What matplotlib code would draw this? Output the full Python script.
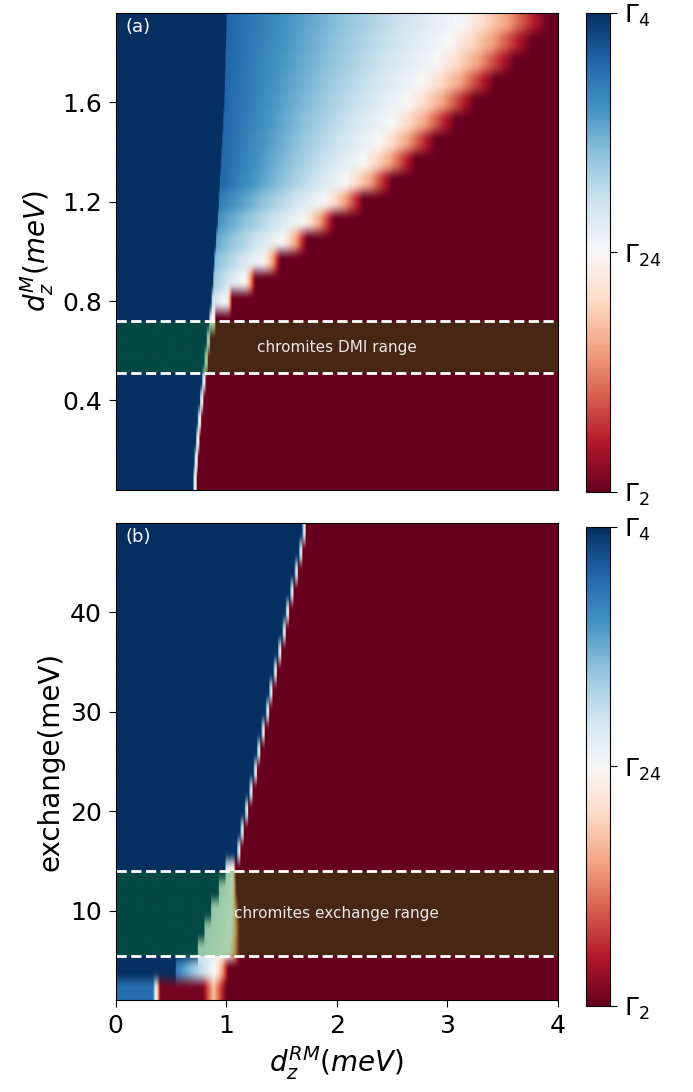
import matplotlib
matplotlib.use("Agg")
import matplotlib.pyplot as plt
import numpy as np

# d_z^RM (meV), sampled finely across each row
d_rm = np.linspace(0.0, 4.0, 801)

# Phase level: 1 = Gamma_4, 0.5 = Gamma_24, 0 = Gamma_2
# Each row: pure Gamma_4 left of the first edge, pure Gamma_2 right of the second,
# and a ramp through Gamma_24 in between that starts at the given level.
ramp_t = [0.0, 0.73, 0.87, 1.0]
ramp_level = [None, 0.5, 0.3, 0.0]

# panel (a): d_z^M rows (meV), top to bottom
dm_rows = [1.92, 1.84, 1.76, 1.68, 1.60, 1.52, 1.44, 1.36, 1.28, 1.20, 1.12, 1.04,
           0.96, 0.88, 0.80, 0.72, 0.64, 0.56, 0.48, 0.40, 0.32, 0.24, 0.16, 0.08]
dm_gamma4_edge = [1.00, 0.995, 0.99, 0.985, 0.98, 0.97, 0.96, 0.95, 0.94, 0.93, 0.92, 0.905,
                  0.89, 0.88, 0.865, 0.845, 0.82, 0.80, 0.78, 0.76, 0.74, 0.725, 0.71, 0.70]
dm_gamma2_edge = [3.91, 3.76, 3.61, 3.43, 3.25, 3.07, 2.89, 2.71, 2.50, 2.24, 1.98, 1.73,
                  1.49, 1.26, 1.05, 0.90, 0.85, 0.83, 0.81, 0.79, 0.77, 0.755, 0.74, 0.73]
dm_start_level = [0.9, 0.9, 0.9, 0.9, 0.9, 0.9, 0.9, 0.9, 0.9, 0.85, 0.8, 0.76,
                  0.72, 0.68, 0.62, 0.58, 0.65, 0.65, 0.65, 0.65, 0.65, 0.65, 0.65, 0.65]
dmi_range = (0.51, 0.72)

# panel (b): exchange rows (meV), top to bottom
ex_rows = [48, 46, 44, 42, 40, 38, 36, 34, 32, 30, 28, 26, 24, 22, 20, 18, 16,
           14, 12, 10, 8, 6, 4]
ex_gamma4_edge = [1.685, 1.655, 1.615, 1.575, 1.535, 1.505, 1.465, 1.425, 1.385, 1.355,
                  1.315, 1.275, 1.245, 1.205, 1.165, 1.125, 1.095,
                  0.99, 0.93, 0.86, 0.80, 0.74, 0.54]
ex_gamma2_edge = [1.715, 1.685, 1.645, 1.605, 1.565, 1.535, 1.495, 1.455, 1.415, 1.385,
                  1.345, 1.305, 1.275, 1.235, 1.195, 1.155, 1.125,
                  1.08, 1.09, 1.11, 1.12, 1.12, 1.02]
ex_start_level = [0.75] * 17 + [0.6, 0.6, 0.6, 0.6, 0.6, 0.85]
# lowest exchange row (2 meV) has its own profile
ex_low_x = [0.0, 0.33, 0.36, 0.40, 0.78, 0.88, 1.00, 4.0]
ex_low_level = [0.88, 0.88, 0.50, 0.02, 0.02, 0.35, 0.0, 0.0]
exchange_range = (5.5, 14.0)

phase_ticks = [1.0, 0.5, 0.0]
phase_labels = [r"$\Gamma_4$", r"$\Gamma_{24}$", r"$\Gamma_2$"]


def phase_rows(x, lo, hi, start):
    grid = np.empty((len(lo), len(x)))
    for i, (a, b, s) in enumerate(zip(lo, hi, start)):
        xp = a + np.array(ramp_t) * (b - a)
        fp = [s] + ramp_level[1:]
        row = np.interp(x, xp, fp)
        row[x < a] = 1.0
        grid[i] = row
    return grid


grid_a = phase_rows(d_rm, dm_gamma4_edge, dm_gamma2_edge, dm_start_level)
grid_b = np.vstack([phase_rows(d_rm, ex_gamma4_edge, ex_gamma2_edge, ex_start_level),
                    np.interp(d_rm, ex_low_x, ex_low_level)])

# row spacing -> image extents
dm_step = dm_rows[0] - dm_rows[1]
ex_step = ex_rows[0] - ex_rows[1]
extent_a = [0, 4, dm_rows[-1] - dm_step / 2, dm_rows[0] + dm_step / 2]
extent_b = [0, 4, 2 - ex_step / 2, ex_rows[0] + ex_step / 2]

fig = plt.figure(figsize=(6.93, 10.92), dpi=100)
ax_a = fig.add_axes([0.167, 0.5513, 0.638, 0.4371])
ax_b = fig.add_axes([0.167, 0.0840, 0.638, 0.4373])
cax_a = fig.add_axes([0.8456, 0.5497, 0.0346, 0.4385])
cax_b = fig.add_axes([0.8456, 0.0790, 0.0346, 0.4385])

panels = [
    (ax_a, cax_a, grid_a, extent_a, dmi_range, "chromites DMI range", "(a)"),
    (ax_b, cax_b, grid_b, extent_b, exchange_range, "chromites exchange range", "(b)"),
]

for ax, cax, grid, extent, band, band_text, tag in panels:
    im = ax.imshow(grid, cmap="RdBu", vmin=0, vmax=1, aspect="auto",
                   extent=extent, origin="upper")
    ax.axhspan(band[0], band[1], color="green", alpha=0.3, lw=0)
    for yb in band:
        ax.axhline(yb, color="white", ls="--", lw=2)
    ax.text(2.0, (band[0] + band[1]) / 2, band_text, color="white", fontsize=11,
            ha="center", va="center", alpha=0.9)
    ax.text(0.022, 0.988, tag, transform=ax.transAxes, color="white",
            fontsize=13, ha="left", va="top")
    ax.set_xlim(0, 4)
    ax.set_ylim(extent[2], extent[3])
    ax.tick_params(labelsize=18, length=5, pad=5)

    cb = fig.colorbar(im, cax=cax, ticks=phase_ticks)
    cb.ax.set_yticklabels(phase_labels)
    cb.ax.tick_params(labelsize=18, length=5, pad=5)

ax_a.set_yticks([0.4, 0.8, 1.2, 1.6])
ax_a.set_yticklabels(["0.4", "0.8", "1.2", "1.6"])
ax_a.tick_params(bottom=False, labelbottom=False)
ax_a.set_ylabel(r"$d_z^M(meV)$", fontsize=20)

ax_b.set_yticks([10, 20, 30, 40])
ax_b.set_xticks([0, 1, 2, 3, 4])
ax_b.set_ylabel("exchange(meV)", fontsize=20)
ax_b.set_xlabel(r"$d_z^{RM}(meV)$", fontsize=20)

fig.savefig("out.png", dpi=100)
